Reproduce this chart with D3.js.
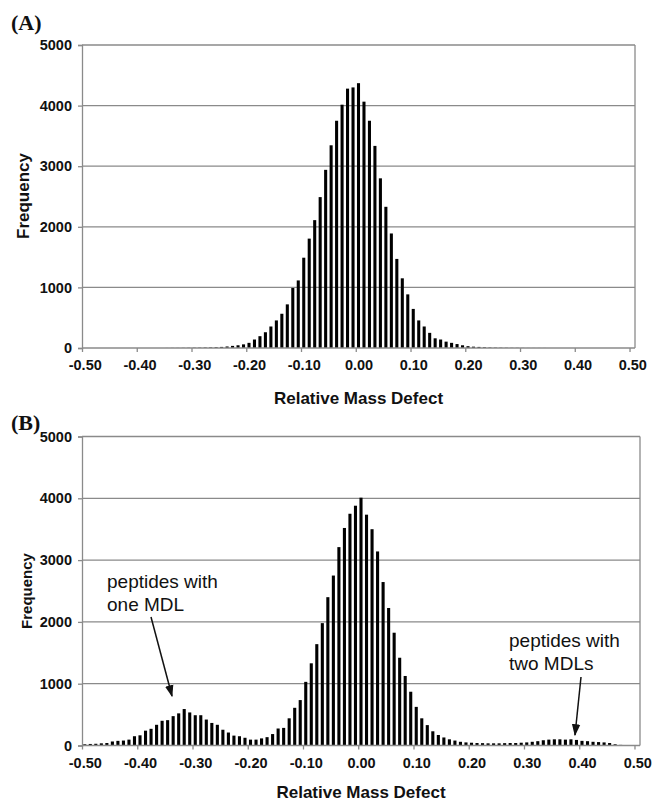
<!DOCTYPE html>
<html>
<head>
<meta charset="utf-8">
<script src="https://cdn.jsdelivr.net/npm/d3@7"></script>
<style>
  body { margin: 0; background: #fff; }
  text { font-family: "Liberation Sans", Arial, sans-serif; }
  text.letter { font-family: "Liberation Serif", "Times New Roman", serif; }
</style>
</head>
<body>
<svg id="chart" width="652" height="802"></svg>
<script>
// relative mass defect bins, -0.50 .. 0.50 in steps of 0.01
const massDefectBins = d3.range(-50, 51).map(i => i / 100);

// panel A frequencies, one per bin
const freqA = [
  0,0,0,0,0,0,0,0,0,0, 0,0,0,0,0,1,2,2,3,4,
  5,6,8,10,13,18,25,35,45,60,
  85,140,195,260,355,455,565,720,990,1115,
  1490,1805,2110,2490,2940,3345,3750,4015,4280,4300,
  4370,4065,3750,3335,2800,2330,1890,1470,1150,885,
  645,455,355,250,160,140,105,85,65,45,
  30,22,18,12,8,6,5,4,3,3,
  2,1,1,1,1,0,0,0,0,0, 0,0,0,0,0,0,0,0,0,0
];

// panel B frequencies, one per bin
const freqB = [
  20,25,28,35,40,65,75,80,95,150,
  165,240,270,335,400,410,475,520,590,535,
  490,490,420,365,335,255,210,160,150,125,
  95,95,115,135,185,275,285,440,610,735,
  1030,1330,1640,1980,2400,2750,3210,3520,3750,3880,
  4010,3735,3500,3140,2645,2225,1825,1420,1125,870,
  625,440,330,230,170,130,100,80,60,50,
  45,40,38,35,35,35,38,40,40,45,
  50,60,70,85,95,100,100,95,100,90,
  75,70,60,55,50,40,20,10,8,5,
  5
];

const yTickValues = [0, 1000, 2000, 3000, 4000, 5000];
const xTickValues = [-0.5, -0.4, -0.3, -0.2, -0.1, 0, 0.1, 0.2, 0.3, 0.4, 0.5];

const svg = d3.select("#chart");

function drawPanel(p) {
  const g = svg.append("g");

  const x = d3.scaleBand()
    .domain(massDefectBins)
    .range([p.left, p.right])
    .paddingInner(0.44)
    .paddingOuter(0.22);
  const step = x.step();

  const y = d3.scaleLinear().domain([0, 5000]).range([p.bottom, p.top]);

  // horizontal grid lines
  g.selectAll(".grid").data(yTickValues.slice(1))
    .join("line")
    .attr("x1", p.left).attr("x2", p.right)
    .attr("y1", d => y(d)).attr("y2", d => y(d))
    .attr("stroke", "#8a8a8a").attr("stroke-width", 1.3);

  // right side of the plot frame
  g.append("line").attr("x1", p.right).attr("x2", p.right)
    .attr("y1", p.top).attr("y2", p.bottom)
    .attr("stroke", "#8a8a8a").attr("stroke-width", 1.3);

  // bars
  g.selectAll(".bar").data(p.values)
    .join("rect")
    .attr("x", (d, i) => x(massDefectBins[i]))
    .attr("width", x.bandwidth())
    .attr("y", d => y(d))
    .attr("height", d => p.bottom - y(d))
    .attr("fill", "#000");

  // y axis
  const yAxis = g.append("g")
    .attr("transform", `translate(${p.left},0)`)
    .call(d3.axisLeft(y).tickValues(yTickValues).tickSize(4).tickPadding(6).tickFormat(d3.format("d")));
  yAxis.select(".domain").attr("stroke", "#8a8a8a").attr("stroke-width", 1.3);
  yAxis.selectAll(".tick line").attr("stroke", "#8a8a8a").attr("stroke-width", 1.3);
  yAxis.selectAll(".tick text")
    .attr("fill", "#111").attr("font-size", 14.5).attr("font-weight", "bold");

  // x axis: tick marks on category boundaries, labels under the category
  const xEdge = d3.scaleLinear()
    .domain([-0.5, 0.5])
    .range([p.left, p.left + 100 * step]);
  const xAxis = g.append("g")
    .attr("transform", `translate(0,${p.bottom})`)
    .call(d3.axisBottom(xEdge).tickValues(xTickValues).tickSize(4).tickPadding(8)
      .tickFormat(d => d.toFixed(2)));
  xAxis.select(".domain").attr("d", `M${p.left},0H${p.right}`)
    .attr("stroke", "#8a8a8a").attr("stroke-width", 1.3);
  xAxis.selectAll(".tick line").attr("stroke", "#8a8a8a").attr("stroke-width", 1.3);
  xAxis.selectAll(".tick text")
    .attr("x", step / 2)
    .attr("fill", "#111").attr("font-size", 14.5).attr("font-weight", "bold");

  // axis titles
  g.append("text")
    .attr("x", (p.left + p.right) / 2).attr("y", p.xTitleY)
    .attr("text-anchor", "middle")
    .attr("font-size", 17).attr("font-weight", "bold").attr("fill", "#111")
    .text("Relative Mass Defect");

  g.append("text")
    .attr("transform", `translate(${p.yTitleX},${p.yTitleY}) rotate(-90)`)
    .attr("text-anchor", "middle")
    .attr("font-size", p.yTitleSize).attr("font-weight", "bold").attr("fill", "#111")
    .text("Frequency");

  // panel letter
  g.append("text")
    .attr("class", "letter")
    .attr("x", 11).attr("y", p.letterY)
    .attr("font-size", 22).attr("font-weight", "bold").attr("fill", "#111")
    .text(p.letter);

  return { x, y, g };
}

drawPanel({
  letter: "(A)", letterY: 30,
  left: 82, right: 635, top: 45, bottom: 348,
  values: freqA,
  xTitleY: 404, yTitleX: 29, yTitleY: 196, yTitleSize: 17
});

drawPanel({
  letter: "(B)", letterY: 430,
  left: 82, right: 640, top: 436.5, bottom: 745.5,
  values: freqB,
  xTitleY: 798, yTitleX: 32, yTitleY: 591, yTitleSize: 15
});

// annotations in panel B
svg.append("defs").append("marker")
  .attr("id", "arrow").attr("viewBox", "0 0 10 10")
  .attr("refX", 9).attr("refY", 5)
  .attr("markerWidth", 8).attr("markerHeight", 8)
  .attr("orient", "auto")
  .append("path").attr("d", "M0,1.5L10,5L0,8.5Z").attr("fill", "#111");

const notes = [
  { lines: ["peptides with", "one MDL"], x: 107, y: 588, from: [151, 617], to: [172, 696] },
  { lines: ["peptides with", "two MDLs"], x: 509, y: 647, from: [581, 677], to: [575, 735] }
];

notes.forEach(n => {
  const t = svg.append("text")
    .attr("x", n.x).attr("y", n.y)
    .attr("font-size", 19).attr("fill", "#111");
  n.lines.forEach((s, i) => {
    t.append("tspan").attr("x", n.x).attr("dy", i === 0 ? 0 : 23).text(s);
  });
  svg.append("line")
    .attr("x1", n.from[0]).attr("y1", n.from[1])
    .attr("x2", n.to[0]).attr("y2", n.to[1])
    .attr("stroke", "#111").attr("stroke-width", 1.5)
    .attr("marker-end", "url(#arrow)");
});
</script>
</body>
</html>
